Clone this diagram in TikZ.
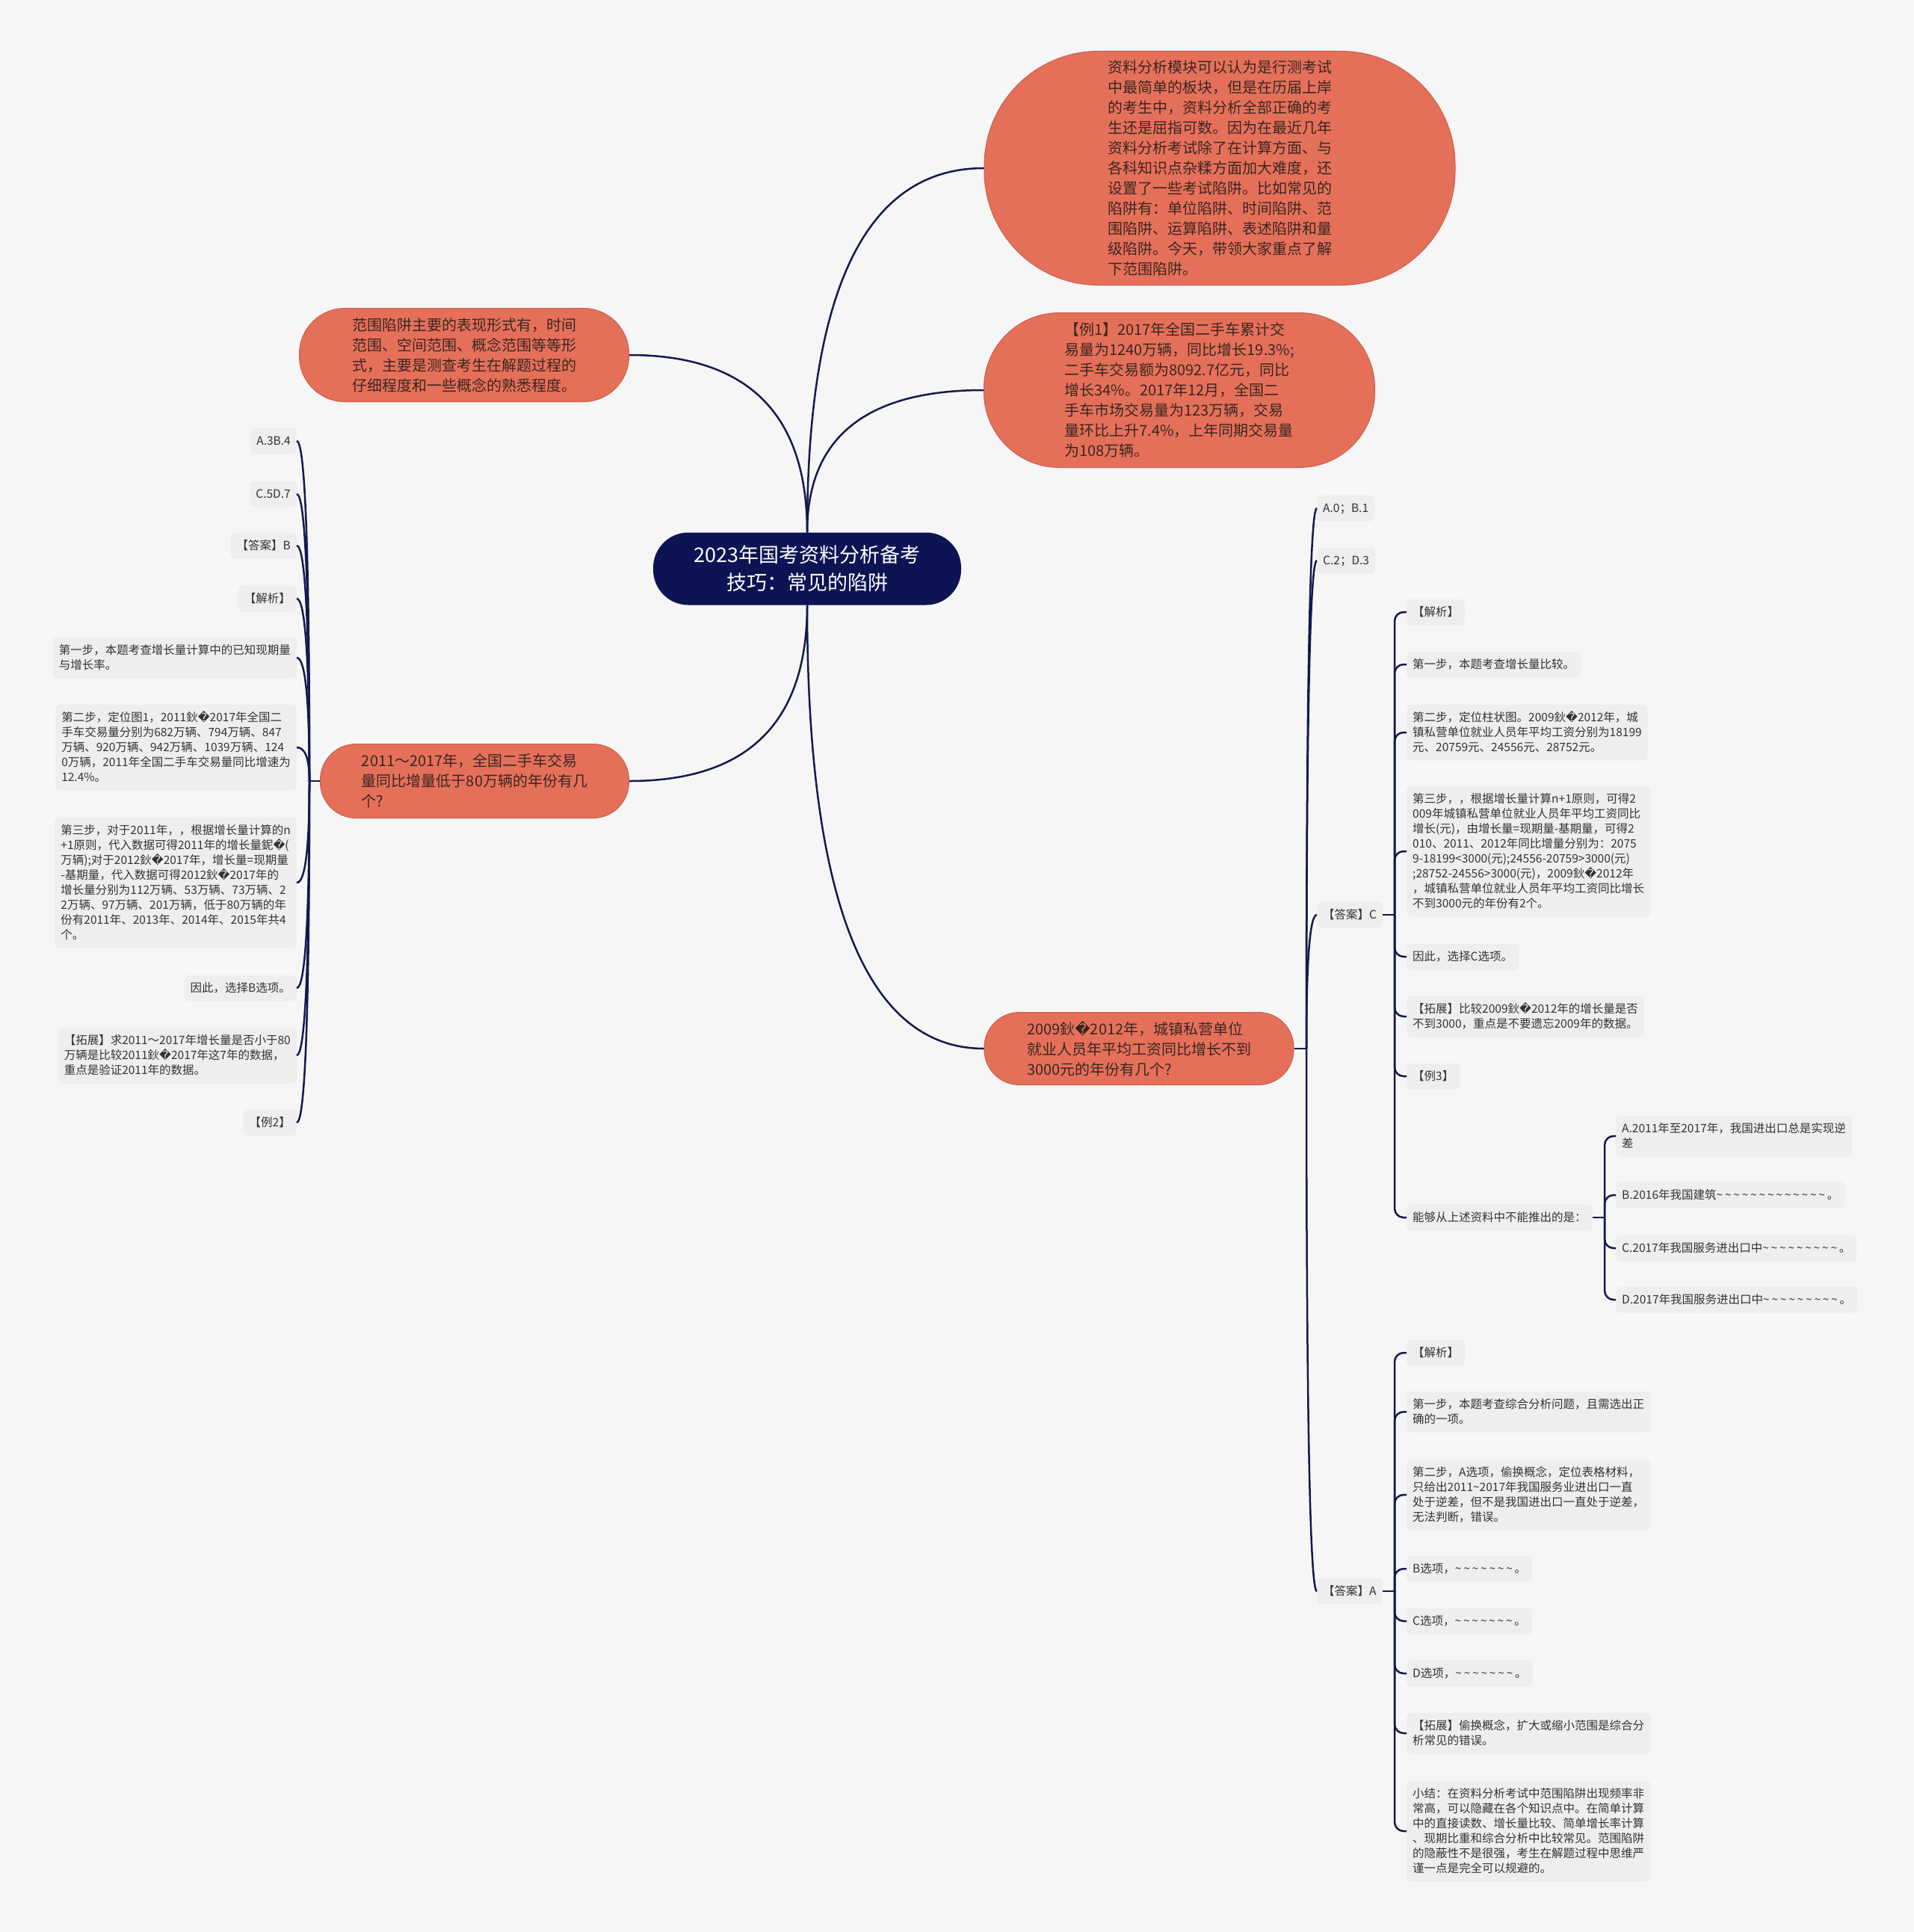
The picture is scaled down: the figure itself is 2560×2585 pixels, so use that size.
\documentclass[tikz,border=0pt]{standalone}
\usepackage{fontspec}
\setmainfont{Noto Sans CJK SC}
\newfontfamily\dvsfont{DejaVu Sans}
\usetikzlibrary{calc}
\definecolor{bgc}{HTML}{F6F6F6}
\definecolor{boxc}{HTML}{EEEEEE}
\definecolor{orf}{HTML}{E5705A}
\definecolor{ord}{HTML}{CC5E49}
\definecolor{navyc}{HTML}{0D1454}
\definecolor{linec}{HTML}{121A4E}
\definecolor{txo}{HTML}{3A2620}
\definecolor{txg}{HTML}{333333}
\newcommand\repch{{\dvsfont\char"FFFD}}
\newcommand\tld{\textasciitilde\kern2.8pt}
\newcommand\sst{\rule[-5pt]{0pt}{20pt}}
\newcommand\mytext[1]{\sst#1\sst}
\newcommand\curvecon[2]{\draw[conn] (#1) .. controls ($(#1)!0.667!(#1 |- #2)$) and ($(#2)!0.667!(#1 |- #2)$) .. (#2);}
\tikzset{
  conn/.style={draw=linec, line width=2.5pt},
  brk/.style={draw=linec, line width=2.5pt, rounded corners=12pt},
  mainbox/.style={draw=ord, line width=1pt, fill=orf, text=txo, align=left,
    font=\fontsize{20}{27}\selectfont, inner sep=0pt},
  itm/.style={fill=boxc, rounded corners=6pt, text=txg, align=left,
    font=\fontsize{15.5}{20}\selectfont, inner xsep=8pt, inner ysep=7.5pt},
}
\begin{document}
\begin{tikzpicture}[x=1pt,y=-1pt]
\fill[bgc] (0,0) rectangle (2560,2585);
\useasboundingbox (0,0) rectangle (2560,2585);

% ---------- main nodes ----------
\node[fill=navyc, text=white, align=center, font=\fontsize{27}{37}\selectfont,
  minimum width=412pt, minimum height=97pt, rounded corners=47pt, inner sep=0pt]
  (c) at (1080,761) {2023年国考资料分析备考\\技巧：常见的陷阱};

\node[mainbox, minimum width=630pt, minimum height=313pt, rounded corners=153pt]
  (tr) at (1632,225) {资料分析模块可以认为是行测考试\\中最简单的板块，但是在历届上岸\\的考生中，资料分析全部正确的考\\生还是屈指可数。因为在最近几年\\资料分析考试除了在计算方面、与\\各科知识点杂糅方面加大难度，还\\设置了一些考试陷阱。比如常见的\\陷阱有：单位陷阱、时间陷阱、范\\围陷阱、运算陷阱、表述陷阱和量\\级陷阱。今天，带领大家重点了解\\下范围陷阱。};

\node[mainbox, minimum width=523pt, minimum height=207pt, rounded corners=101pt]
  (ex1) at (1578,522) {【例1】2017年全国二手车累计交\\易量为1240万辆，同比增长19.3\%;\\二手车交易额为8092.7亿元，同比\\增长34\%。2017年12月，全国二\\手车市场交易量为123万辆，交易\\量环比上升7.4\%，上年同期交易量\\为108万辆。};

\node[mainbox, minimum width=441pt, minimum height=125pt, rounded corners=61pt]
  (fw) at (621,475) {范围陷阱主要的表现形式有，时间\\范围、空间范围、概念范围等等形\\式，主要是测查考生在解题过程的\\仔细程度和一些概念的熟悉程度。};

\node[mainbox, minimum width=413pt, minimum height=99pt, rounded corners=48pt]
  (q1) at (635,1045) {2011～2017年，全国二手车交易\\量同比增量低于80万辆的年份有几\\个?};

\node[mainbox, minimum width=414pt, minimum height=97pt, rounded corners=47pt]
  (q2) at (1524,1403) {2009鈥\repch2012年，城镇私营单位\\就业人员年平均工资同比增长不到\\3000元的年份有几个?};

\curvecon{c.north}{tr.west}
\curvecon{c.north}{ex1.west}
\curvecon{c.north}{fw.east}
\curvecon{c.south}{q1.east}
\curvecon{c.south}{q2.west}

% ---------- left subtree ----------
\node[itm,anchor=east] (l1) at (397,590) {\mytext{A.3B.4}};
\node[itm,anchor=east] (l2) at (397,661) {\mytext{C.5D.7}};
\node[itm,anchor=east] (l3) at (397,730) {\mytext{【答案】B}};
\node[itm,anchor=east] (l4) at (397,801) {\mytext{【解析】}};
\node[itm,anchor=east] (l5) at (397,880) {\mytext{第一步，本题考查增长量计算中的已知现期量\\与增长率。}};
\node[itm,anchor=east] (l6) at (397,1000) {\mytext{第二步，定位图1，2011鈥\repch2017年全国二\\手车交易量分别为682万辆、794万辆、847\\万辆、920万辆、942万辆、1039万辆、124\\0万辆，2011年全国二手车交易量同比增速为\\12.4\%。}};
\node[itm,anchor=east] (l7) at (397,1181) {\mytext{第三步，对于2011年，，根据增长量计算的n\\+1原则，代入数据可得2011年的增长量鈮\repch(\\万辆);对于2012鈥\repch2017年，增长量=现期量\\-基期量，代入数据可得2012鈥\repch2017年的\\增长量分别为112万辆、53万辆、73万辆、2\\2万辆、97万辆、201万辆，低于80万辆的年\\份有2011年、2013年、2014年、2015年共4\\个。}};
\node[itm,anchor=east] (l8) at (397,1322) {\mytext{因此，选择B选项。}};
\node[itm,anchor=east] (l9) at (397,1412) {\mytext{【拓展】求2011～2017年增长量是否小于80\\万辆是比较2011鈥\repch2017年这7年的数据，\\重点是验证2011年的数据。}};
\node[itm,anchor=east] (l10) at (397,1502) {\mytext{【例2】}};

\coordinate (L) at (414,1045);
\draw[conn] (q1.west) -- (L);
\foreach \n in {l1,l2,l3,l4,l5,l6,l7,l8,l9,l10}{\curvecon{L}{\n.east}}

% ---------- right subtree ----------
\node[itm,anchor=west] (r1) at (1762,680) {\mytext{A.0；B.1}};
\node[itm,anchor=west] (r2) at (1762,750) {\mytext{C.2；D.3}};
\node[itm,anchor=west] (ansC) at (1762,1224) {\mytext{【答案】C}};
\node[itm,anchor=west] (ansA) at (1762,2129) {\mytext{【答案】A}};

\coordinate (R) at (1748,1403);
\draw[conn] (q2.east) -- (R);
\foreach \n in {r1,r2,ansC,ansA}{\curvecon{R}{\n.west}}

% children of answer C
\node[itm,anchor=west] (c1) at (1882,819) {\mytext{【解析】}};
\node[itm,anchor=west] (c2) at (1882,889) {\mytext{第一步，本题考查增长量比较。}};
\node[itm,anchor=west] (c3) at (1882,980) {\mytext{第二步，定位柱状图。2009鈥\repch2012年，城\\镇私营单位就业人员年平均工资分别为18199\\元、20759元、24556元、28752元。}};
\node[itm,anchor=west] (c4) at (1882,1139) {\mytext{第三步，，根据增长量计算n+1原则，可得2\\009年城镇私营单位就业人员年平均工资同比\\增长(元)，由增长量=现期量-基期量，可得2\\010、2011、2012年同比增量分别为：2075\\9-18199<3000(元);24556-20759>3000(元)\\;28752-24556>3000(元)，2009鈥\repch2012年\\，城镇私营单位就业人员年平均工资同比增长\\不到3000元的年份有2个。}};
\node[itm,anchor=west] (c5) at (1882,1280) {\mytext{因此，选择C选项。}};
\node[itm,anchor=west] (c6) at (1882,1360) {\mytext{【拓展】比较2009鈥\repch2012年的增长量是否\\不到3000，重点是不要遗忘2009年的数据。}};
\node[itm,anchor=west] (c7) at (1882,1440) {\mytext{【例3】}};
\node[itm,anchor=west] (c8) at (1882,1629) {\mytext{能够从上述资料中不能推出的是：}};

\coordinate (RC) at (1866,1224);
\draw[conn] (ansC.east) -- (RC);
\foreach \n in {c1,c2,c3,c4,c5,c6,c7,c8}{\draw[brk] (RC) |- (\n.west);}

% children of c8
\node[itm,anchor=west] (d1) at (2162,1520) {\mytext{A.2011年至2017年，我国进出口总是实现逆\\差}};
\node[itm,anchor=west] (d2) at (2162,1599) {\mytext{B.2016年我国建筑\tld\tld\tld\tld\tld\tld\tld\tld\tld\tld\tld\tld\tld。}};
\node[itm,anchor=west] (d3) at (2162,1670) {\mytext{C.2017年我国服务进出口中\tld\tld\tld\tld\tld\tld\tld\tld\tld。}};
\node[itm,anchor=west] (d4) at (2162,1739) {\mytext{D.2017年我国服务进出口中\tld\tld\tld\tld\tld\tld\tld\tld\tld。}};

\coordinate (RD) at (2147,1629);
\draw[conn] (c8.east) -- (RD);
\foreach \n in {d1,d2,d3,d4}{\draw[brk] (RD) |- (\n.west);}

% children of answer A
\node[itm,anchor=west] (e1) at (1882,1810) {\mytext{【解析】}};
\node[itm,anchor=west] (e2) at (1882,1889) {\mytext{第一步，本题考查综合分析问题，且需选出正\\确的一项。}};
\node[itm,anchor=west] (e3) at (1882,2000) {\mytext{第二步，A选项，偷换概念，定位表格材料，\\只给出2011\textasciitilde 2017年我国服务业进出口一直\\处于逆差，但不是我国进出口一直处于逆差，\\无法判断，错误。}};
\node[itm,anchor=west] (e4) at (1882,2099) {\mytext{B选项，\tld\tld\tld\tld\tld\tld\tld。}};
\node[itm,anchor=west] (e5) at (1882,2169) {\mytext{C选项，\tld\tld\tld\tld\tld\tld\tld。}};
\node[itm,anchor=west] (e6) at (1882,2239) {\mytext{D选项，\tld\tld\tld\tld\tld\tld\tld。}};
\node[itm,anchor=west] (e7) at (1882,2319) {\mytext{【拓展】偷换概念，扩大或缩小范围是综合分\\析常见的错误。}};
\node[itm,anchor=west] (e8) at (1882,2450) {\mytext{小结：在资料分析考试中范围陷阱出现频率非\\常高，可以隐藏在各个知识点中。在简单计算\\中的直接读数、增长量比较、简单增长率计算\\、现期比重和综合分析中比较常见。范围陷阱\\的隐蔽性不是很强，考生在解题过程中思维严\\谨一点是完全可以规避的。}};

\coordinate (RA) at (1866,2129);
\draw[conn] (ansA.east) -- (RA);
\foreach \n in {e1,e2,e3,e4,e5,e6,e7,e8}{\draw[brk] (RA) |- (\n.west);}
\end{tikzpicture}
\end{document}
